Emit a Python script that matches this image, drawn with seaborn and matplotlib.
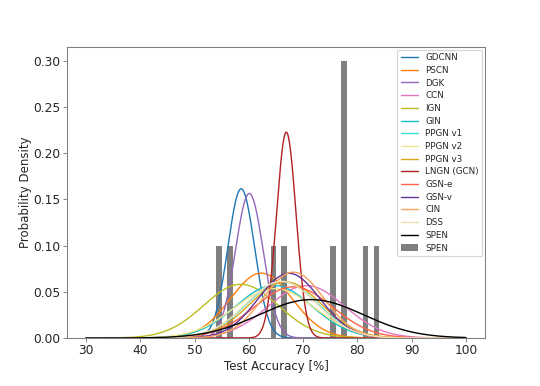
import numpy as np
import pandas as pd
import matplotlib
matplotlib.use("Agg")
import matplotlib.pyplot as plt
import seaborn as sns
from matplotlib.lines import Line2D
from matplotlib.patches import Patch

# Model names, reported mean accuracy and std (%)
models = ["GDCNN", "PSCN", "DGK", "CCN", "IGN", "GIN", "PPGN v1", "PPGN v2",
          "PPGN v3", "LNGN (GCN)", "GSN-e", "GSN-v", "CIN", "DSS", "SPEN"]
means = [58.59, 62.29, 60.08, 70.62, 58.53, 64.6, 66.17, 64.70,
         66.76, 66.9, 68.2, 67.4, 68.2, 66.0, 71.5]
stds = [2.47, 5.68, 2.55, 7.04, 6.86, 7.0, 6.54, 7.46,
        6.56, 1.79, 7.2, 5.7, 5.6, 6.5, 9.6]
colors = ["tab:blue", "tab:orange", "tab:purple", "tab:pink", "tab:olive",
          "tab:cyan", "turquoise", "khaki", "goldenrod", "firebrick",
          "tomato", "rebeccapurple", "sandybrown", "wheat", "black"]

# SPEN per-fold test accuracies (%)
spen_folds = [54.5, 56.5, 64.5, 66.5, 75.5, 77.5, 77.5, 77.5, 81.5, 83.5]

x = np.linspace(30, 100, 700)
rows = []
for m, mu, sd in zip(models, means, stds):
    pdf = np.exp(-0.5 * ((x - mu) / sd) ** 2) / (sd * np.sqrt(2 * np.pi))
    rows.append(pd.DataFrame({"x": x, "y": pdf, "model": m}))
curves = pd.concat(rows, ignore_index=True)

sns.set_style("white")
plt.rcParams["font.family"] = ["DejaVu Sans"]

fig = plt.figure(figsize=(6.4, 386 / 84.375), dpi=84.375)
ax = fig.add_axes([67 / 540, 1 - 338 / 386, (485 - 67) / 540, (338 - 47) / 386])

sns.lineplot(data=curves, x="x", y="y", hue="model", hue_order=models,
             palette=dict(zip(models, colors)), linewidth=1.2, ax=ax,
             legend=False)

sns.histplot(x=spen_folds, bins=np.arange(30, 101, 1), stat="density",
             color="black", alpha=0.5, linewidth=0, edgecolor="none", ax=ax)

ax.set_xlim(26.5, 103.5)
ax.set_ylim(0, 0.315)
ax.set_xticks(np.arange(30, 101, 10))
ax.set_yticks(np.arange(0, 0.31, 0.05))
ax.set_yticklabels([f"{v:.2f}" for v in np.arange(0, 0.31, 0.05)])
ax.set_xlabel("Test Accuracy [%]", fontsize=10, labelpad=2)
ax.set_ylabel("Probability Density", fontsize=10, labelpad=1)
ax.tick_params(axis="both", labelsize=10.5, length=3.5, width=0.8,
               color="#808080", left=True, bottom=True, pad=2)
for s in ax.spines.values():
    s.set_color("#808080")
    s.set_linewidth(0.9)

handles = [Line2D([0], [0], color=c, lw=1.2) for c in colors]
handles.append(Patch(facecolor="black", alpha=0.5, edgecolor="none"))
labels = models + ["SPEN"]
ax.legend(handles, labels, loc="upper right", fontsize=7.5,
          frameon=True, framealpha=0.8, edgecolor="#cccccc",
          handlelength=2.0, labelspacing=0.42, borderaxespad=0.3)

fig.savefig("out.png", dpi=84.375)
